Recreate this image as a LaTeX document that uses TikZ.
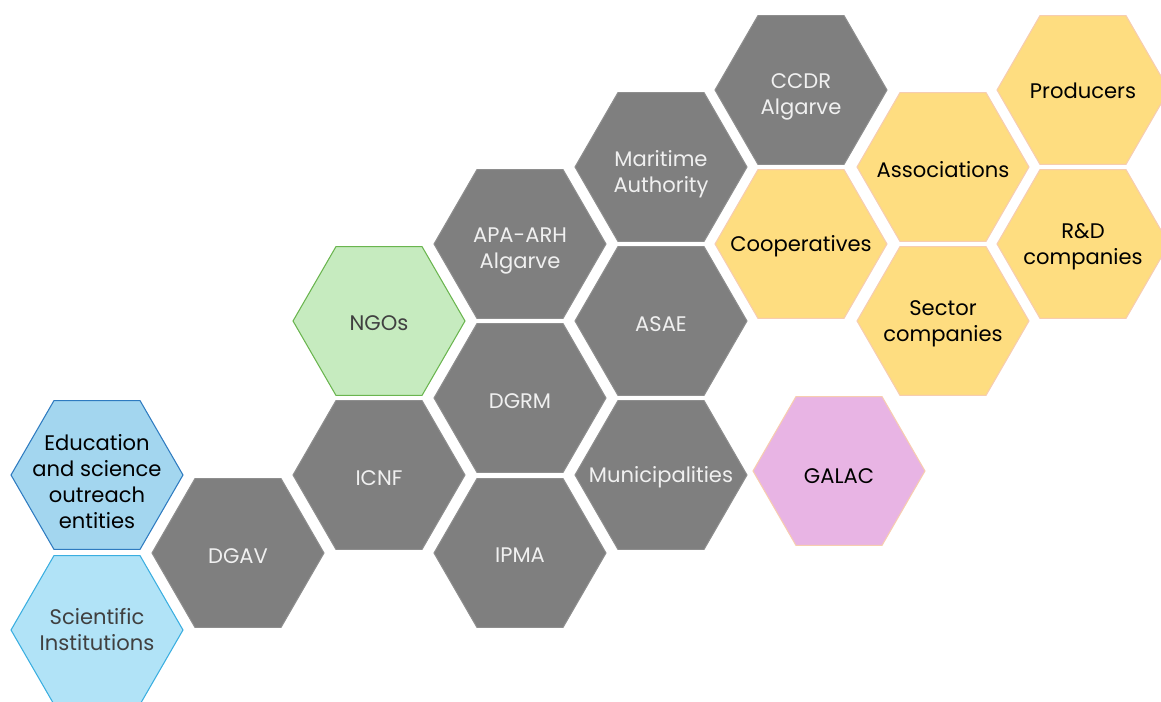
\documentclass[tikz,border=0pt]{standalone}
\usepackage{fontspec}
\setmainfont{Poppins}
\usetikzlibrary{shapes.geometric}

\definecolor{cellgray}{HTML}{7F7F7F}
\definecolor{edgegray}{HTML}{8E8E8E}
\definecolor{edublue}{HTML}{A3D6EF}
\definecolor{eduedge}{HTML}{2E7BC0}
\definecolor{sciblue}{HTML}{B1E3F7}
\definecolor{sciedge}{HTML}{3AAEE0}
\definecolor{ngogreen}{HTML}{C6EBBF}
\definecolor{ngoedge}{HTML}{6AB54F}
\definecolor{prodyellow}{HTML}{FEDD80}
\definecolor{peach}{HTML}{F7CDB0}
\definecolor{galacpink}{HTML}{E8B4E4}
\definecolor{darktext}{HTML}{404040}

\tikzset{
    hexa/.style={regular polygon, regular polygon sides=6, minimum size=3.44cm,
                 inner sep=0pt, line width=0.6pt},
    govcell/.style={hexa, fill=cellgray, draw=edgegray},
    edcell/.style={hexa, fill=edublue, draw=eduedge},
    scicell/.style={hexa, fill=sciblue, draw=sciedge},
    ngocell/.style={hexa, fill=ngogreen, draw=ngoedge},
    prodcell/.style={hexa, fill=prodyellow, draw=peach},
    galaccell/.style={hexa, fill=galacpink, draw=peach},
    txt/.style={align=center, yshift=-1.5pt, font=\fontsize{12}{14.8}\selectfont},
    multi/.style={yshift=-2.5pt},
    lighttxt/.style={txt, text=white!94!black},
    blacktxt/.style={txt, text=black},
    greytxt/.style={txt, text=darktext}
}

\begin{document}
\begin{tikzpicture}[x=0.02cm, y=-0.02cm]
    \useasboundingbox (0,0) rectangle (1161,702);

    % outreach and science
    \node[edcell, label={[blacktxt, multi]center:Education\\and science\\outreach\\entities}] (edu) at (97,475) {};
    \node[scicell, label={[greytxt, yshift=2pt]center:Scientific\\Institutions}] (sci) at (97,630) {};

    % public bodies
    \node[govcell, label={[lighttxt]center:DGAV}] (dgav) at (238,553) {};
    \node[govcell, label={[lighttxt]center:ICNF}] (icnf) at (379,475) {};
    \node[ngocell, label={[greytxt]center:NGOs}] (ngo) at (379,321) {};
    \node[govcell, label={[lighttxt]center:IPMA}] (ipma) at (520,553) {};
    \node[govcell, label={[lighttxt]center:DGRM}] (dgrm) at (520,398) {};
    \node[govcell, label={[lighttxt, multi]center:APA-ARH\\Algarve}] (apa) at (520,244) {};
    \node[govcell, label={[lighttxt]center:Municipalities}] (muni) at (661,475) {};
    \node[govcell, label={[lighttxt]center:ASAE}] (asae) at (661,321) {};
    \node[govcell, label={[lighttxt, multi]center:Maritime\\Authority}] (mari) at (661,167) {};
    \node[govcell, label={[lighttxt, multi]center:CCDR\\Algarve}] (ccdr) at (801,90) {};

    % sector
    \node[prodcell, label={[blacktxt]center:Cooperatives}] (coop) at (801,244) {};
    \node[prodcell, label={[blacktxt]center:Associations}] (assoc) at (943,167) {};
    \node[prodcell, label={[blacktxt]center:Sector\\companies}] (sector) at (943,321) {};
    \node[prodcell, label={[blacktxt, yshift=1pt]center:Producers}] (prod) at (1083,90) {};
    \node[prodcell, label={[blacktxt]center:R\&D\\companies}] (rnd) at (1083,244) {};

    \node[galaccell, label={[blacktxt, yshift=-1.5pt]center:GALAC}] (galac) at (839,471) {};
\end{tikzpicture}
\end{document}
